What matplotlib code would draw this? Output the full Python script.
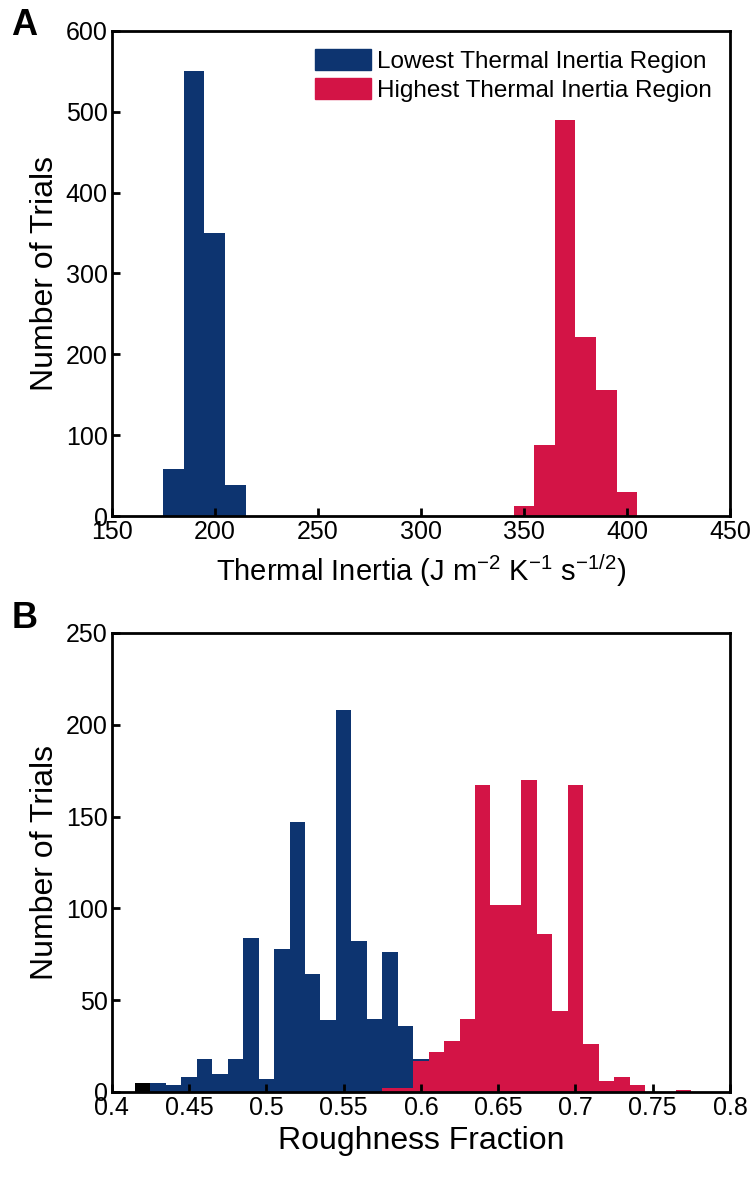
import numpy as np
import matplotlib
matplotlib.use('Agg')
import matplotlib.pyplot as plt
from matplotlib.patches import Patch

plt.rcParams['font.family'] = ['Liberation Sans', 'DejaVu Sans']
plt.rcParams['mathtext.default'] = 'regular'

blue = '#0d3470'
red = '#d31446'

# panel A: thermal inertia histograms (bin left edges, counts)
ti_low_edges = [175, 185, 195, 205]
ti_low_counts = [58, 550, 350, 38]
ti_high_edges = [345, 355, 365, 375, 385, 395]
ti_high_counts = [12, 88, 490, 222, 156, 30]
ti_width = 10

# panel B: roughness fraction histograms
rf_black_edges = [0.415]
rf_black_counts = [5]
rf_low_edges = [0.425, 0.435, 0.445, 0.455, 0.465, 0.475, 0.485, 0.495, 0.505,
                0.515, 0.525, 0.535, 0.545, 0.555, 0.565, 0.575, 0.585, 0.595]
rf_low_counts = [5, 4, 8, 18, 10, 18, 84, 7, 78, 147, 64, 39, 208, 82, 40, 76, 36, 18]
rf_high_edges = [0.575, 0.585, 0.595, 0.605, 0.615, 0.625, 0.635, 0.645, 0.655, 0.665,
                 0.675, 0.685, 0.695, 0.705, 0.715, 0.725, 0.735, 0.745, 0.755, 0.765]
rf_high_counts = [2, 2, 17, 22, 28, 40, 167, 102, 102, 170, 86, 44, 167, 26, 6, 8, 4, 0, 0, 1]
rf_width = 0.01

labels = ['Lowest Thermal Inertia Region', 'Highest Thermal Inertia Region']

fig = plt.figure(figsize=(7.56, 11.95), dpi=100)
axA = fig.add_axes([0.1478, 0.5682, 0.8179, 0.4059])
axB = fig.add_axes([0.1478, 0.0862, 0.8179, 0.3841])

def style(ax):
    for s in ax.spines.values():
        s.set_linewidth(2)
    ax.tick_params(direction='in', length=6, width=2, labelsize=18, pad=3,
                   top=False, right=False)

# Panel A
axA.bar(ti_low_edges, ti_low_counts, width=ti_width, align='edge', color=blue, linewidth=0)
axA.bar(ti_high_edges, ti_high_counts, width=ti_width, align='edge', color=red, linewidth=0)
axA.set_xlim(150, 450)
axA.set_ylim(0, 600)
axA.set_xticks(range(150, 451, 50))
axA.set_yticks(range(0, 601, 100))
axA.set_xlabel('Thermal Inertia (J m$^{-2}$ K$^{-1}$ s$^{-1/2}$)', fontsize=21, labelpad=6)
axA.set_ylabel('Number of Trials', fontsize=23, labelpad=4)
style(axA)
handles = [Patch(color=blue), Patch(color=red)]
axA.legend(handles, labels, loc='upper right', bbox_to_anchor=(0.979, 0.972),
           frameon=False, fontsize=17.5, handlelength=2.3, handleheight=0.95,
           handletextpad=0.25, labelspacing=0.2, borderaxespad=0, borderpad=0.2)

# Panel B
axB.bar(rf_black_edges, rf_black_counts, width=rf_width, align='edge', color='black', linewidth=0)
axB.bar(rf_low_edges, rf_low_counts, width=rf_width, align='edge', color=blue, linewidth=0)
axB.bar(rf_high_edges, rf_high_counts, width=rf_width, align='edge', color=red, linewidth=0)
axB.set_xlim(0.4, 0.8)
axB.set_ylim(0, 250)
xt = [0.4, 0.45, 0.5, 0.55, 0.6, 0.65, 0.7, 0.75, 0.8]
axB.set_xticks(xt)
axB.set_xticklabels(['0.4', '0.45', '0.5', '0.55', '0.6', '0.65', '0.7', '0.75', '0.8'])
axB.set_yticks(range(0, 251, 50))
axB.set_xlabel('Roughness Fraction', fontsize=23, labelpad=4)
axB.set_ylabel('Number of Trials', fontsize=23, labelpad=4)
style(axB)

fig.text(0.015, 0.993, 'A', fontsize=26, fontweight='bold', va='top')
fig.text(0.015, 0.497, 'B', fontsize=26, fontweight='bold', va='top')

fig.savefig('out.png', dpi=100)
